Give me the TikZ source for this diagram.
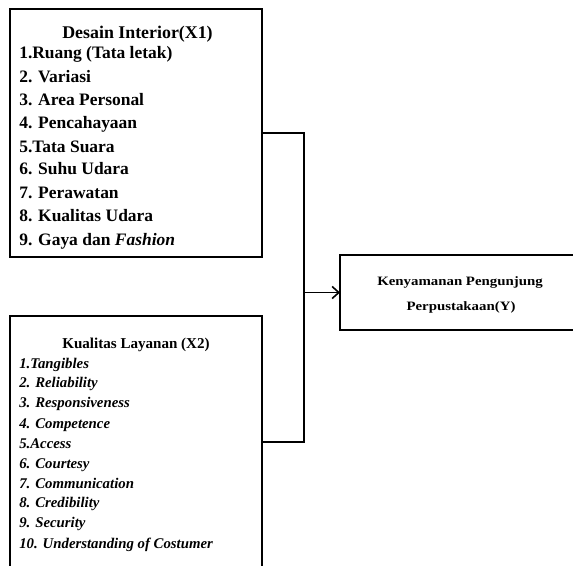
\documentclass[tikz,border=0pt]{standalone}
\usepackage{fontspec}
\setmainfont{Liberation Serif}
\newfontfamily\ywide[FakeStretch=1.16]{Liberation Serif}
\usetikzlibrary{arrows.meta}
\tikzset{
  box/.style={draw=black, line width=2pt, rectangle, inner sep=0pt, outer sep=0pt},
  conn/.style={draw=black, line width=1.2pt},
  itemA/.style={anchor=base west, inner sep=0pt, font=\fontsize{13.1pt}{15pt}\selectfont\bfseries},
  titleA/.style={anchor=base, inner sep=0pt, font=\fontsize{13.4pt}{15pt}\selectfont\bfseries},
  itemB/.style={anchor=base west, inner sep=0pt, font=\fontsize{11.1pt}{13pt}\selectfont\bfseries\itshape},
  titleB/.style={anchor=base, inner sep=0pt, font=\fontsize{11.3pt}{13pt}\selectfont\bfseries},
  ytext/.style={anchor=base, inner sep=0pt, font=\fontsize{9.6pt}{11pt}\selectfont\ywide\bfseries},
}
\begin{document}
\begin{tikzpicture}[x=0.75pt,y=-0.75pt]
\useasboundingbox (0,0) rectangle (573,565);
\clip (0,0) rectangle (573,565);
\fill[white] (0,0) rectangle (573,565);
% boxes
\node[box, minimum width=252*0.75pt, minimum height=248*0.75pt] (b1) at (136,133) {};
\node[box, minimum width=252*0.75pt, minimum height=252*0.75pt] (b2) at (136,442) {};
\node[box, minimum width=240*0.75pt, minimum height=75*0.75pt] (y) at (460,292.5) {};
% box 1 text
\node[titleA] (t1) at (137.5,38) {Desain Interior(X1)};
\node[itemA] (a1) at (19,58) {1.Ruang (Tata letak)};
\node[itemA] (a2) at (19,82) {2. Variasi};
\node[itemA] (a3) at (19,105) {3. Area Personal};
\node[itemA] (a4) at (19,128) {4. Pencahayaan};
\node[itemA] (a5) at (19,152) {5.Tata Suara};
\node[itemA] (a6) at (19,174.5) {6. Suhu Udara};
\node[itemA] (a7) at (19,198) {7. Perawatan};
\node[itemA] (a8) at (19,221) {8. Kualitas Udara};
\node[itemA] (a9) at (19,245) {9. Gaya dan \textit{Fashion}};
% box 2 text
\node[titleB] (t2) at (136,348) {Kualitas Layanan (X2)};
\node[itemB] (c1) at (19,368) {1.Tangibles};
\node[itemB] (c2) at (19,387.5) {2. Reliability};
\node[itemB] (c3) at (19,407.5) {3. Responsiveness};
\node[itemB] (c4) at (19,428) {4. Competence};
\node[itemB] (c5) at (19,448) {5.Access};
\node[itemB] (c6) at (19,468) {6. Courtesy};
\node[itemB] (c7) at (19,488) {7. Communication};
\node[itemB] (c8) at (19,507.5) {8. Credibility};
\node[itemB] (c9) at (19,527.5) {9. Security};
\node[itemB] (c10) at (19,548) {10. Understanding of Costumer};
% Y text
\node[ytext] (y1) at (460,285) {Kenyamanan Pengunjung};
\node[ytext] (y2) at (461,310) {Perpustakaan(Y)};
% connectors
\coordinate (jx) at (304,292.5);
\draw[conn] (b1.east) -| (jx) |- (b2.east);
\draw[conn, -{Straight Barb[length=5pt,width=9pt,line width=1.2pt]}] (jx) -- (y.west);
\end{tikzpicture}
\end{document}
